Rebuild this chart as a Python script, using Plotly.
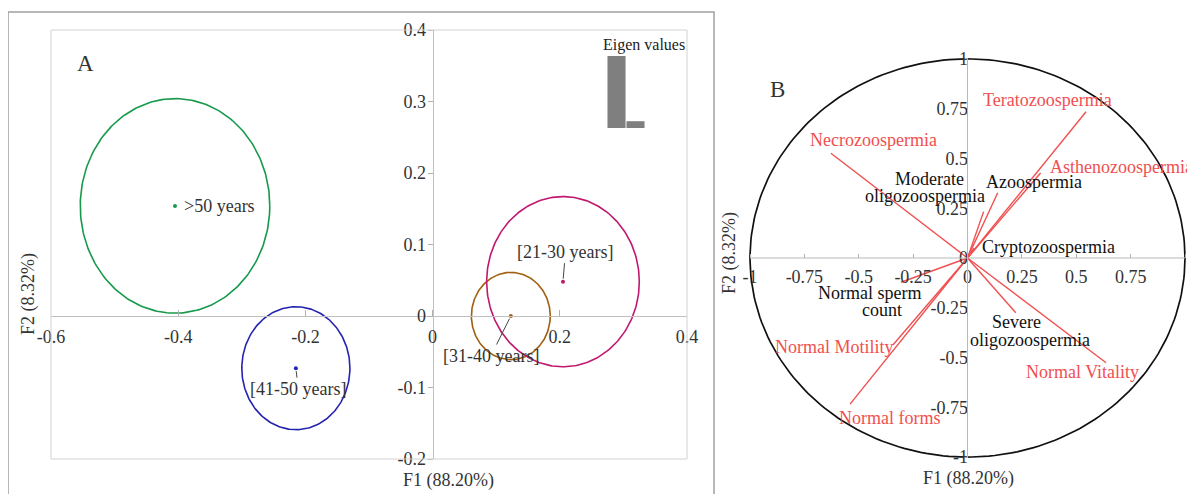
import numpy as np
import plotly.graph_objects as go

# ---------------- data ----------------
# Panel A: group centroids and confidence-ellipse radii (F1, F2)
groups = [">50 years", "[41-50 years]", "[31-40 years]", "[21-30 years]"]
grp_f1 = [-0.405, -0.215, 0.123, 0.205]
grp_f2 = [0.154, -0.073, 0.0, 0.048]
grp_rx = [0.149, 0.085, 0.062, 0.120]
grp_ry = [0.150, 0.086, 0.061, 0.119]
grp_colors = ["#17994b", "#2424b0", "#a0600f", "#c0186f"]

# Eigen values inset (percent of inertia)
eig_labels = ["F1", "F2"]
eig_values = [88.20, 8.32]

# Panel B: variable loadings (correlation circle)
var_names = ["Teratozoospermia", "Asthenozoospermia", "Necrozoospermia", "Azoospermia",
             "Moderate oligozoospermia", "Cryptozoospermia", "Normal sperm count",
             "Normal Motility", "Normal forms", "Severe oligozoospermia", "Normal Vitality"]
var_f1 = [0.545, 0.336, -0.628, 0.139, 0.074, 0.03, -0.306, -0.343, -0.540, 0.222, 0.637]
var_f2 = [0.735, 0.427, 0.526, 0.328, 0.233, 0.05, -0.122, -0.437, -0.734, -0.275, -0.526]

a_xticks = [-0.6, -0.4, -0.2, 0, 0.2, 0.4]
a_yticks = [-0.2, -0.1, 0, 0.1, 0.2, 0.3, 0.4]
b_ticks = [-1, -0.75, -0.5, -0.25, 0, 0.25, 0.5, 0.75, 1]
b_xticktext = ["-1", "-0.75", "-0.5", "-0.25", "0", "0.25", "0.5", "0.75", ""]
b_yticktext = ["-1", "-0.75", "-0.5", "-0.25", "0", "0.25", "0.5", "0.75", "1"]

# ---------------- layout helpers ----------------
W, H = 1195, 494
OFF = 8  # page body margin offset
FONT = "Liberation Serif"
RED = "#f05050"
TXT = "#333333"


def px(x):
    return (x - OFF) / W


def py(y):
    return 1 - (y - OFF) / H


fig = go.Figure()

# Panel A ellipses + centroids
t = np.linspace(0, 2 * np.pi, 240)
for name, cx, cy, rx, ry, col in zip(groups, grp_f1, grp_f2, grp_rx, grp_ry, grp_colors):
    fig.add_trace(go.Scatter(x=cx + rx * np.cos(t), y=cy + ry * np.sin(t), mode="lines",
                             line=dict(color=col, width=1.6), xaxis="x", yaxis="y",
                             hoverinfo="skip", showlegend=False))
    fig.add_trace(go.Scatter(x=[cx], y=[cy], mode="markers", marker=dict(color=col, size=4),
                             xaxis="x", yaxis="y", name=name, showlegend=False))

# Eigen values inset
fig.add_trace(go.Bar(x=eig_labels, y=eig_values, marker=dict(color="#7f7f7f", line=dict(width=0)),
                     xaxis="x3", yaxis="y3", showlegend=False))

# Panel B correlation circle
fig.add_trace(go.Scatter(x=np.cos(t), y=np.sin(t), mode="lines", line=dict(color="#111111", width=1.7),
                         xaxis="x2", yaxis="y2", hoverinfo="skip", showlegend=False))
vx, vy = [], []
for a, b in zip(var_f1, var_f2):
    vx += [0, a, None]
    vy += [0, b, None]
fig.add_trace(go.Scatter(x=vx, y=vy, mode="lines", line=dict(color=RED, width=1.4),
                         xaxis="x2", yaxis="y2", hoverinfo="skip", showlegend=False))

# ---------------- axes ----------------
tickfont = dict(family=FONT, size=18, color=TXT)
layout_axes = dict(
    xaxis=dict(domain=[px(51), px(687)], range=[-0.6, 0.4], anchor="free", position=py(315.5),
               showgrid=False, zeroline=False, showline=True, linecolor="#c0c0c0", linewidth=1,
               ticks="inside", ticklen=6, tickcolor="#b0b0b0", tickvals=a_xticks,
               ticktext=[f"{v:g}" for v in a_xticks], tickfont=tickfont, ticklabelstandoff=5),
    yaxis=dict(domain=[py(459), py(30)], range=[-0.2, 0.4], anchor="free", position=px(432.6),
               showgrid=False, zeroline=False, showline=True, linecolor="#c0c0c0", linewidth=1,
               ticks="outside", ticklen=5, tickcolor="#b0b0b0", tickvals=a_yticks,
               ticktext=[f"{v:g}" for v in a_yticks], tickfont=tickfont, ticklabelstandoff=-2),
    xaxis2=dict(domain=[px(741.3), px(1193.7)], range=[-1.04, 1.04], anchor="free", position=py(258),
                showgrid=False, zeroline=False, showline=False,
                ticks="inside", ticklen=4, tickcolor="#b0b0b0", tickvals=b_ticks,
                ticktext=b_xticktext, tickfont=tickfont, ticklabelstandoff=6),
    yaxis2=dict(domain=[py(465), py(51)], range=[-1.04, 1.04], anchor="free", position=px(967.5),
                showgrid=False, zeroline=False, showline=False,
                ticks="outside", ticklen=4, tickcolor="#b0b0b0", tickvals=b_ticks,
                ticktext=b_yticktext, tickfont=tickfont, ticklabelstandoff=-8),
    xaxis3=dict(domain=[px(607), px(645)], anchor="y3", visible=False, fixedrange=True),
    yaxis3=dict(domain=[py(128), py(56)], range=[0, max(eig_values)], anchor="x3", visible=False),
)

shapes = [
    # outer frame of panel A
    dict(type="rect", xref="paper", yref="paper", x0=px(8), x1=px(714), y0=py(530), y1=py(12),
         line=dict(color="#a0a0a0", width=1.5)),
    # inner plot box of panel A
    dict(type="rect", xref="paper", yref="paper", x0=px(51), x1=px(687), y0=py(459), y1=py(30),
         line=dict(color="#d2d2d2", width=1)),
    # panel B axis lines
    dict(type="line", xref="x2", yref="y2", x0=-1, x1=1, y0=0, y1=0, line=dict(color="#b8b8b8", width=1)),
    dict(type="line", xref="x2", yref="y2", x0=0, x1=0, y0=-1, y1=1, line=dict(color="#b8b8b8", width=1)),
]

ann = []


def label(text, x, y, color=TXT, size=18, xanchor="center", angle=0):
    ann.append(dict(text=text, x=px(x), y=py(y), xref="paper", yref="paper", showarrow=False,
                    xanchor=xanchor, yanchor="middle", textangle=angle,
                    font=dict(family=FONT, size=size, color=color)))


# Panel A text
label("A", 85, 63, size=23)
label("Eigen values", 644, 45, size=16, color="#222222")
label("F1 (88.20%)", 448.5, 480)
label("F2 (8.32%)", 28, 294, angle=-90)
label(groups[0], 182, 206, xanchor="left")
# group labels with leader lines
for gi, (ox, oy) in zip([1, 2, 3], [(2.5, 21), (-20, 40), (2.5, -30)]):
    ann.append(dict(text=groups[gi], x=grp_f1[gi], y=grp_f2[gi], xref="x", yref="y",
                    showarrow=True, ax=ox, ay=oy, arrowhead=0, arrowwidth=1, arrowcolor="#444444",
                    standoff=3, font=dict(family=FONT, size=18, color=TXT)))

# Panel B text
label("B", 777, 89, size=23)
label("F1 (88.20%)", 968, 478)
label("F2 (8.32%)", 729, 253, angle=-90)
BLK = "#111111"
label("Teratozoospermia", 1047.5, 100, RED)
label("Asthenozoospermia", 1048, 167, RED, xanchor="left")
label("Necrozoospermia", 873.5, 140, RED)
label("Moderate", 929, 179, BLK)
label("oligozoospermia", 925, 196, BLK)
label("Azoospermia", 984, 182, BLK, xanchor="left")
label("Cryptozoospermia", 980, 247, BLK, xanchor="left")
label("Normal sperm", 869, 293, BLK)
label("count", 882, 310, BLK)
label("Normal Motility", 834, 347, RED)
label("Normal forms", 890, 418, RED)
label("Severe", 1016.5, 322, BLK)
label("oligozoospermia", 1030, 340, BLK)
label("Normal Vitality", 1082, 372, RED)

fig.update_layout(
    width=W, height=H, margin=dict(l=0, r=0, t=0, b=0, autoexpand=False),
    paper_bgcolor="white", plot_bgcolor="rgba(0,0,0,0)",
    showlegend=False, bargap=0.05,
    font=dict(family=FONT, size=18, color=TXT),
    shapes=shapes, annotations=ann,
    **layout_axes,
)

fig.write_html("out.html")
